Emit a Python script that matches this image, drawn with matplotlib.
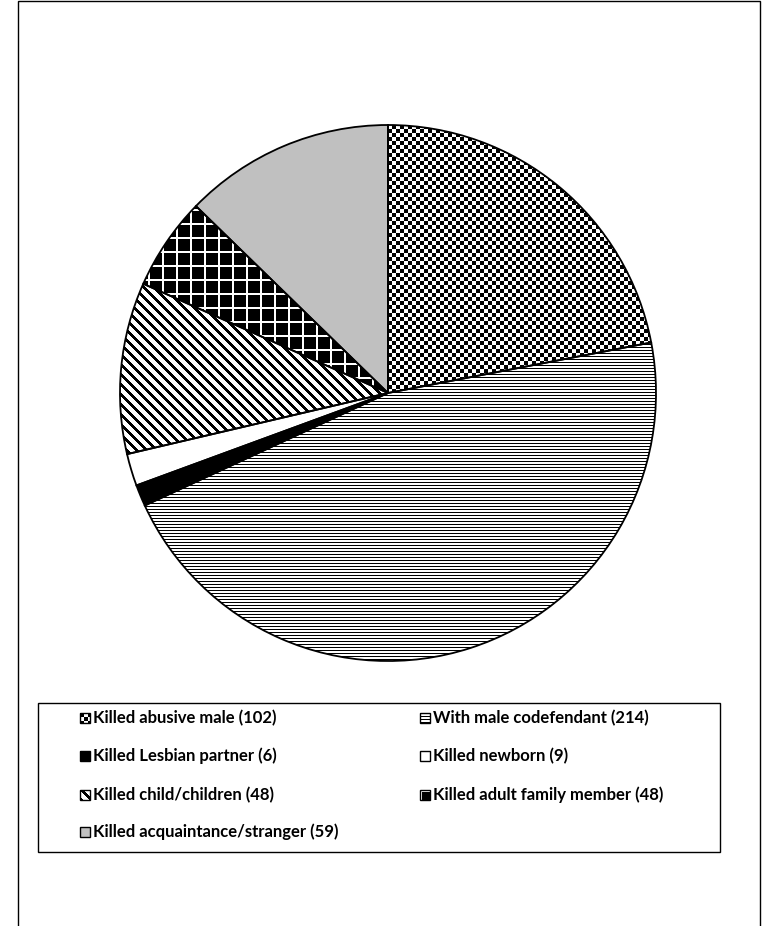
"""
Pie chart: women who killed, by victim / circumstance (hatched b/w style)
"""
import numpy as np
import matplotlib
matplotlib.use("Agg")
import matplotlib.pyplot as plt
from matplotlib.patches import Rectangle

LABELS = [
    "Killed abusive male (102)",
    "With male codefendant (214)",
    "Killed Lesbian partner (6)",
    "Killed newborn (9)",
    "Killed child/children (48)",
    "Killed adult family member (48)",
    "Killed acquaintance/stranger (59)",
]
# slice sizes as drawn in the picture (adult family slice is drawn smaller than its label)
SIZES = [102, 214, 6, 9, 48, 26, 59]
PATTERNS = ["checker", "hlines", "black", "white", "diag", "grid", "gray"]

W, H = 762, 926
CX, CY, R = 388, H - 393, 268


def pattern(kind, n):
    yy, xx = np.mgrid[0:n, 0:n]
    if kind == "checker":
        return ((xx // 4 + yy // 4) % 2).astype(float)
    if kind == "hlines":
        return np.where(yy % 3 == 0, 0.0, 1.0)
    if kind == "diag":
        return np.where((xx - yy) % 10 < 4, 0.0, 1.0)
    if kind == "grid":
        return np.where((xx % 14 < 2) | (yy % 14 < 2), 1.0, 0.0)
    if kind == "black":
        return np.zeros((n, n))
    if kind == "gray":
        return np.full((n, n), 0.753)
    return np.ones((n, n))


def fill(ax, patch, kind, x0, y0, size):
    img = ax.imshow(pattern(kind, size), cmap="gray", vmin=0, vmax=1,
                    interpolation="nearest", origin="upper",
                    extent=[x0, x0 + size, y0, y0 + size], zorder=1)
    img.set_clip_path(patch)


def main():
    fig = plt.figure(figsize=(W / 100, H / 100), dpi=100)
    ax = fig.add_axes([0, 0, 1, 1])

    wedges, _ = ax.pie(SIZES, center=(CX, CY), radius=R, startangle=90,
                       counterclock=False, frame=True,
                       wedgeprops=dict(facecolor="none", edgecolor="black", linewidth=1.3))
    ax.set_xlim(0, W)
    ax.set_ylim(0, H)
    ax.set_aspect("auto")
    ax.axis("off")
    for w, kind in zip(wedges, PATTERNS):
        w.set_zorder(2)
        fill(ax, w, kind, CX - R, CY - R, 2 * R)

    # legend box
    ax.add_patch(Rectangle((38, H - 852), 682, 149, facecolor="none",
                           edgecolor="black", linewidth=1))
    rows = [718, 756, 795, 832]
    cols = [85, 425]
    for i, (lab, kind) in enumerate(zip(LABELS, PATTERNS)):
        r, c = divmod(i, 2)
        mx, my = cols[c], H - rows[r]
        box = Rectangle((mx - 5, my - 5), 10, 10, facecolor="none",
                        edgecolor="black", linewidth=1, zorder=3)
        ax.add_patch(box)
        fill(ax, box, kind, mx - 5, my - 5, 10)
        ax.text(mx + 8, my, lab, fontsize=12, fontweight="bold",
                family=["Lato", "DejaVu Sans"], va="center", ha="left")

    # chart area frame
    ax.add_patch(Rectangle((18, -5), 742, H - 1 + 5, facecolor="none",
                           edgecolor="black", linewidth=1))

    fig.savefig("out.png", dpi=100)
    plt.close(fig)


if __name__ == "__main__":
    main()
